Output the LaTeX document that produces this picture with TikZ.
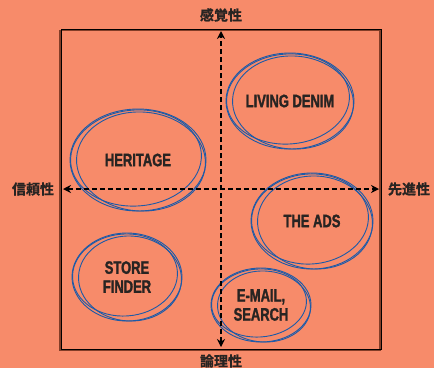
\documentclass[tikz,border=0pt]{standalone}
\usepackage{fontspec}
\setmainfont{Liberation Sans}
\newfontfamily\labfont{Liberation Sans Bold}[FakeStretch=0.72,FakeBold=1.5]
\newfontfamily\cjk{Noto Sans CJK JP Bold}[FakeBold=1]
\usetikzlibrary{arrows.meta}
\definecolor{bgc}{RGB}{247,139,106}
\definecolor{ellc}{RGB}{28,90,168}
\definecolor{txtc}{RGB}{40,36,34}
\definecolor{shadowc}{RGB}{130,62,40}
\tikzset{
  lbl/.style={font=\labfont\fontsize{18}{19}\selectfont, text=txtc, align=center, inner sep=0pt},
  axlbl/.style={font=\cjk\fontsize{14}{15}\selectfont, text=txtc, inner sep=0pt},
  ell/.style={draw=ellc, line width=0.9pt},
  axis/.style={line width=1.8pt, dash pattern=on 5pt off 3pt, {Stealth[length=8pt,width=8pt]}-{Stealth[length=8pt,width=8pt]}},
}
\newcommand\tripell[3]{%
  \draw[ell] (#1) ellipse [x radius=#2, y radius=#3];
  \draw[ell] ([shift={(3,1.5)}]#1) ellipse [x radius=#2-3.5, y radius=#3-1.5, rotate=-3];
  \draw[ell] ([shift={(-2,-2)}]#1) ellipse [x radius=#2-2.5, y radius=#3-3, rotate=4];
}
\begin{document}
\begin{tikzpicture}[x=1pt,y=-1pt]
\useasboundingbox (0,0) rectangle (434,368);
\fill[bgc] (0,0) rectangle (434,368);
% frame with shadow
\draw[shadowc, line width=1.6pt] (60,30.5) rectangle (380,350.5);
\draw[black, line width=0.8pt] (61,29) rectangle (381,349);
% text nodes
\node[lbl] (living) at (290,101) {LIVING DENIM};
\node[lbl] (heritage) at (138,160) {HERITAGE};
\node[lbl] (ads) at (312,221) {THE ADS};
\node[lbl] (store) at (127,277) {STORE\\FINDER};
\node[lbl] (email) at (261,305) {E-MAIL,\\SEARCH};
% ellipses
\tripell{living}{64}{48}
\tripell{heritage}{68}{51}
\tripell{ads}{61}{48}
\tripell{store}{55}{44}
\tripell{email}{50}{37}
% axes
\coordinate (top) at (221,31);
\coordinate (bot) at (221,347);
\coordinate (left) at (63,189);
\coordinate (right) at (379,189);
\draw[axis] (bot) -- (top);
\draw[axis] (left) -- (right);
% axis labels
\node[axlbl] (kan) at (221,15) {感覚性};
\node[axlbl] (ron) at (221,361) {論理性};
\node[axlbl] (shin) at (33,189) {信頼性};
\node[axlbl] (sen) at (409,189) {先進性};
\end{tikzpicture}
\end{document}
